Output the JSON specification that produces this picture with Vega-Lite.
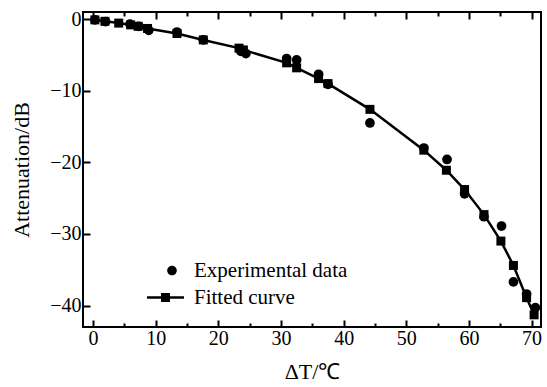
{
  "$schema": "https://vega.github.io/schema/vega-lite/v6.json",
  "width": 458,
  "height": 315,
  "autosize": "none",
  "padding": {"left": 83, "top": 12, "right": 6, "bottom": 60},
  "background": "white",
  "config": {
    "view": {"stroke": "black", "strokeWidth": 2},
    "font": "Liberation Serif",
    "axis": {
      "grid": false,
      "domain": false,
      "labelFont": "Liberation Serif",
      "labelFontSize": 20,
      "labelColor": "black",
      "titleFont": "Liberation Serif",
      "titleFontSize": 22,
      "titleFontWeight": "normal",
      "titleColor": "black",
      "tickColor": "black",
      "tickWidth": 2
    },
    "legend": {
      "labelFont": "Liberation Serif",
      "labelFontSize": 21,
      "labelColor": "black"
    }
  },
  "datasets": {
    "pts": [
      {"series": "Experimental data", "x": 0.3, "y": -0.1},
      {"series": "Experimental data", "x": 2.0, "y": -0.35},
      {"series": "Experimental data", "x": 5.9, "y": -0.7},
      {"series": "Experimental data", "x": 7.3, "y": -1.0},
      {"series": "Experimental data", "x": 8.9, "y": -1.55},
      {"series": "Experimental data", "x": 13.4, "y": -1.8},
      {"series": "Experimental data", "x": 17.6, "y": -2.9},
      {"series": "Experimental data", "x": 23.6, "y": -4.5},
      {"series": "Experimental data", "x": 24.4, "y": -4.8},
      {"series": "Experimental data", "x": 30.9, "y": -5.5},
      {"series": "Experimental data", "x": 32.5, "y": -5.7},
      {"series": "Experimental data", "x": 36.0, "y": -7.7},
      {"series": "Experimental data", "x": 37.5, "y": -9.1},
      {"series": "Experimental data", "x": 44.2, "y": -14.5},
      {"series": "Experimental data", "x": 52.8, "y": -18.0},
      {"series": "Experimental data", "x": 56.5, "y": -19.6},
      {"series": "Experimental data", "x": 59.3, "y": -24.4},
      {"series": "Experimental data", "x": 62.4, "y": -27.6},
      {"series": "Experimental data", "x": 65.2, "y": -28.9},
      {"series": "Experimental data", "x": 67.1, "y": -36.7},
      {"series": "Experimental data", "x": 69.2, "y": -38.4},
      {"series": "Experimental data", "x": 70.6, "y": -40.3},
      {"series": "Fitted curve", "x": 0.3, "y": -0.1},
      {"series": "Fitted curve", "x": 1.9, "y": -0.3},
      {"series": "Fitted curve", "x": 4.1, "y": -0.55},
      {"series": "Fitted curve", "x": 6.0, "y": -0.8},
      {"series": "Fitted curve", "x": 7.2, "y": -1.0},
      {"series": "Fitted curve", "x": 8.7, "y": -1.3},
      {"series": "Fitted curve", "x": 13.4, "y": -2.0},
      {"series": "Fitted curve", "x": 17.6, "y": -2.9},
      {"series": "Fitted curve", "x": 23.3, "y": -4.05},
      {"series": "Fitted curve", "x": 24.0, "y": -4.3},
      {"series": "Fitted curve", "x": 30.9, "y": -6.1},
      {"series": "Fitted curve", "x": 32.5, "y": -6.8},
      {"series": "Fitted curve", "x": 36.0, "y": -8.3},
      {"series": "Fitted curve", "x": 37.5, "y": -9.0},
      {"series": "Fitted curve", "x": 44.2, "y": -12.6},
      {"series": "Fitted curve", "x": 52.8, "y": -18.3},
      {"series": "Fitted curve", "x": 56.4, "y": -21.1},
      {"series": "Fitted curve", "x": 59.3, "y": -23.8},
      {"series": "Fitted curve", "x": 62.4, "y": -27.3},
      {"series": "Fitted curve", "x": 65.1, "y": -31.0},
      {"series": "Fitted curve", "x": 67.1, "y": -34.4},
      {"series": "Fitted curve", "x": 69.2, "y": -38.9},
      {"series": "Fitted curve", "x": 70.4, "y": -41.3}
    ]
  },
  "data": {"name": "pts"},
  "layer": [
    {
      "transform": [{"filter": "datum.series === 'Fitted curve'"}],
      "mark": {"type": "line", "color": "black", "strokeWidth": 2.5},
      "encoding": {
        "x": {
          "field": "x", "type": "quantitative",
          "scale": {"domain": [-1.6, 71.5], "nice": false, "zero": false},
          "axis": {
            "orient": "top", "title": null, "labels": false,
            "values": [0,5,10,15,20,25,30,35,40,45,50,55,60,65,70],
            "tickSize": {"condition": {"test": "datum.value % 10 === 0", "value": -7}, "value": -4}
          }
        },
        "y": {
          "field": "y", "type": "quantitative",
          "scale": {"domain": [-43, 1], "nice": false, "zero": false},
          "axis": {
            "orient": "left", "title": "Attenuation/dB", "titlePadding": 16,
            "values": [0,-5,-10,-15,-20,-25,-30,-35,-40],
            "labelExpr": "datum.value % 10 === 0 ? datum.label : ''",
            "tickSize": {"condition": {"test": "datum.value % 10 === 0", "value": -7}, "value": -4},
            "labelPadding": 9
          }
        }
      }
    },
    {
      "transform": [{"filter": "datum.series === 'Fitted curve'"}],
      "mark": {"type": "point", "shape": "square", "filled": true, "color": "black", "opacity": 1, "size": 81},
      "encoding": {
        "x": {"field": "x", "type": "quantitative", "axis": null},
        "y": {"field": "y", "type": "quantitative"}
      }
    },
    {
      "transform": [{"filter": "datum.series === 'Experimental data'"}],
      "mark": {"type": "point", "shape": "circle", "filled": true, "color": "black", "opacity": 1, "size": 95},
      "encoding": {
        "x": {
          "field": "x", "type": "quantitative",
          "axis": {
            "orient": "bottom", "title": "ΔT/℃", "titlePadding": 13,
            "values": [0,5,10,15,20,25,30,35,40,45,50,55,60,65,70],
            "labelExpr": "datum.value % 10 === 0 ? datum.label : ''",
            "tickSize": {"condition": {"test": "datum.value % 10 === 0", "value": -7}, "value": -4},
            "labelPadding": 8
          }
        },
        "y": {"field": "y", "type": "quantitative"}
      }
    },
    {
      "transform": [{"filter": "false"}],
      "mark": {"type": "point", "filled": true, "color": "black", "opacity": 1},
      "encoding": {
        "x": {"field": "x", "type": "quantitative", "axis": null},
        "y": {"field": "y", "type": "quantitative"},
        "shape": {
          "field": "series", "type": "nominal",
          "scale": {
            "domain": ["Experimental data", "Fitted curve"],
            "range": [
              "M1.41,0A0.6,0.6,0,1,1,0.21,0A0.6,0.6,0,1,1,1.41,0Z",
              "M-2.31,-0.16H-0.56V-0.56H0.56V-0.16H2.31V0.16H0.56V0.56H-0.56V0.16H-2.31Z"
            ]
          },
          "legend": {
            "title": null,
            "orient": "none",
            "legendX": 72,
            "legendY": 248,
            "padding": 0,
            "symbolSize": 256,
            "symbolStrokeWidth": 0,
            "symbolFillColor": "black",
            "symbolOpacity": 1,
            "labelOffset": 18,
            "rowPadding": 5
          }
        }
      }
    }
  ],
  "resolve": {"axis": {"x": "independent"}}
}
